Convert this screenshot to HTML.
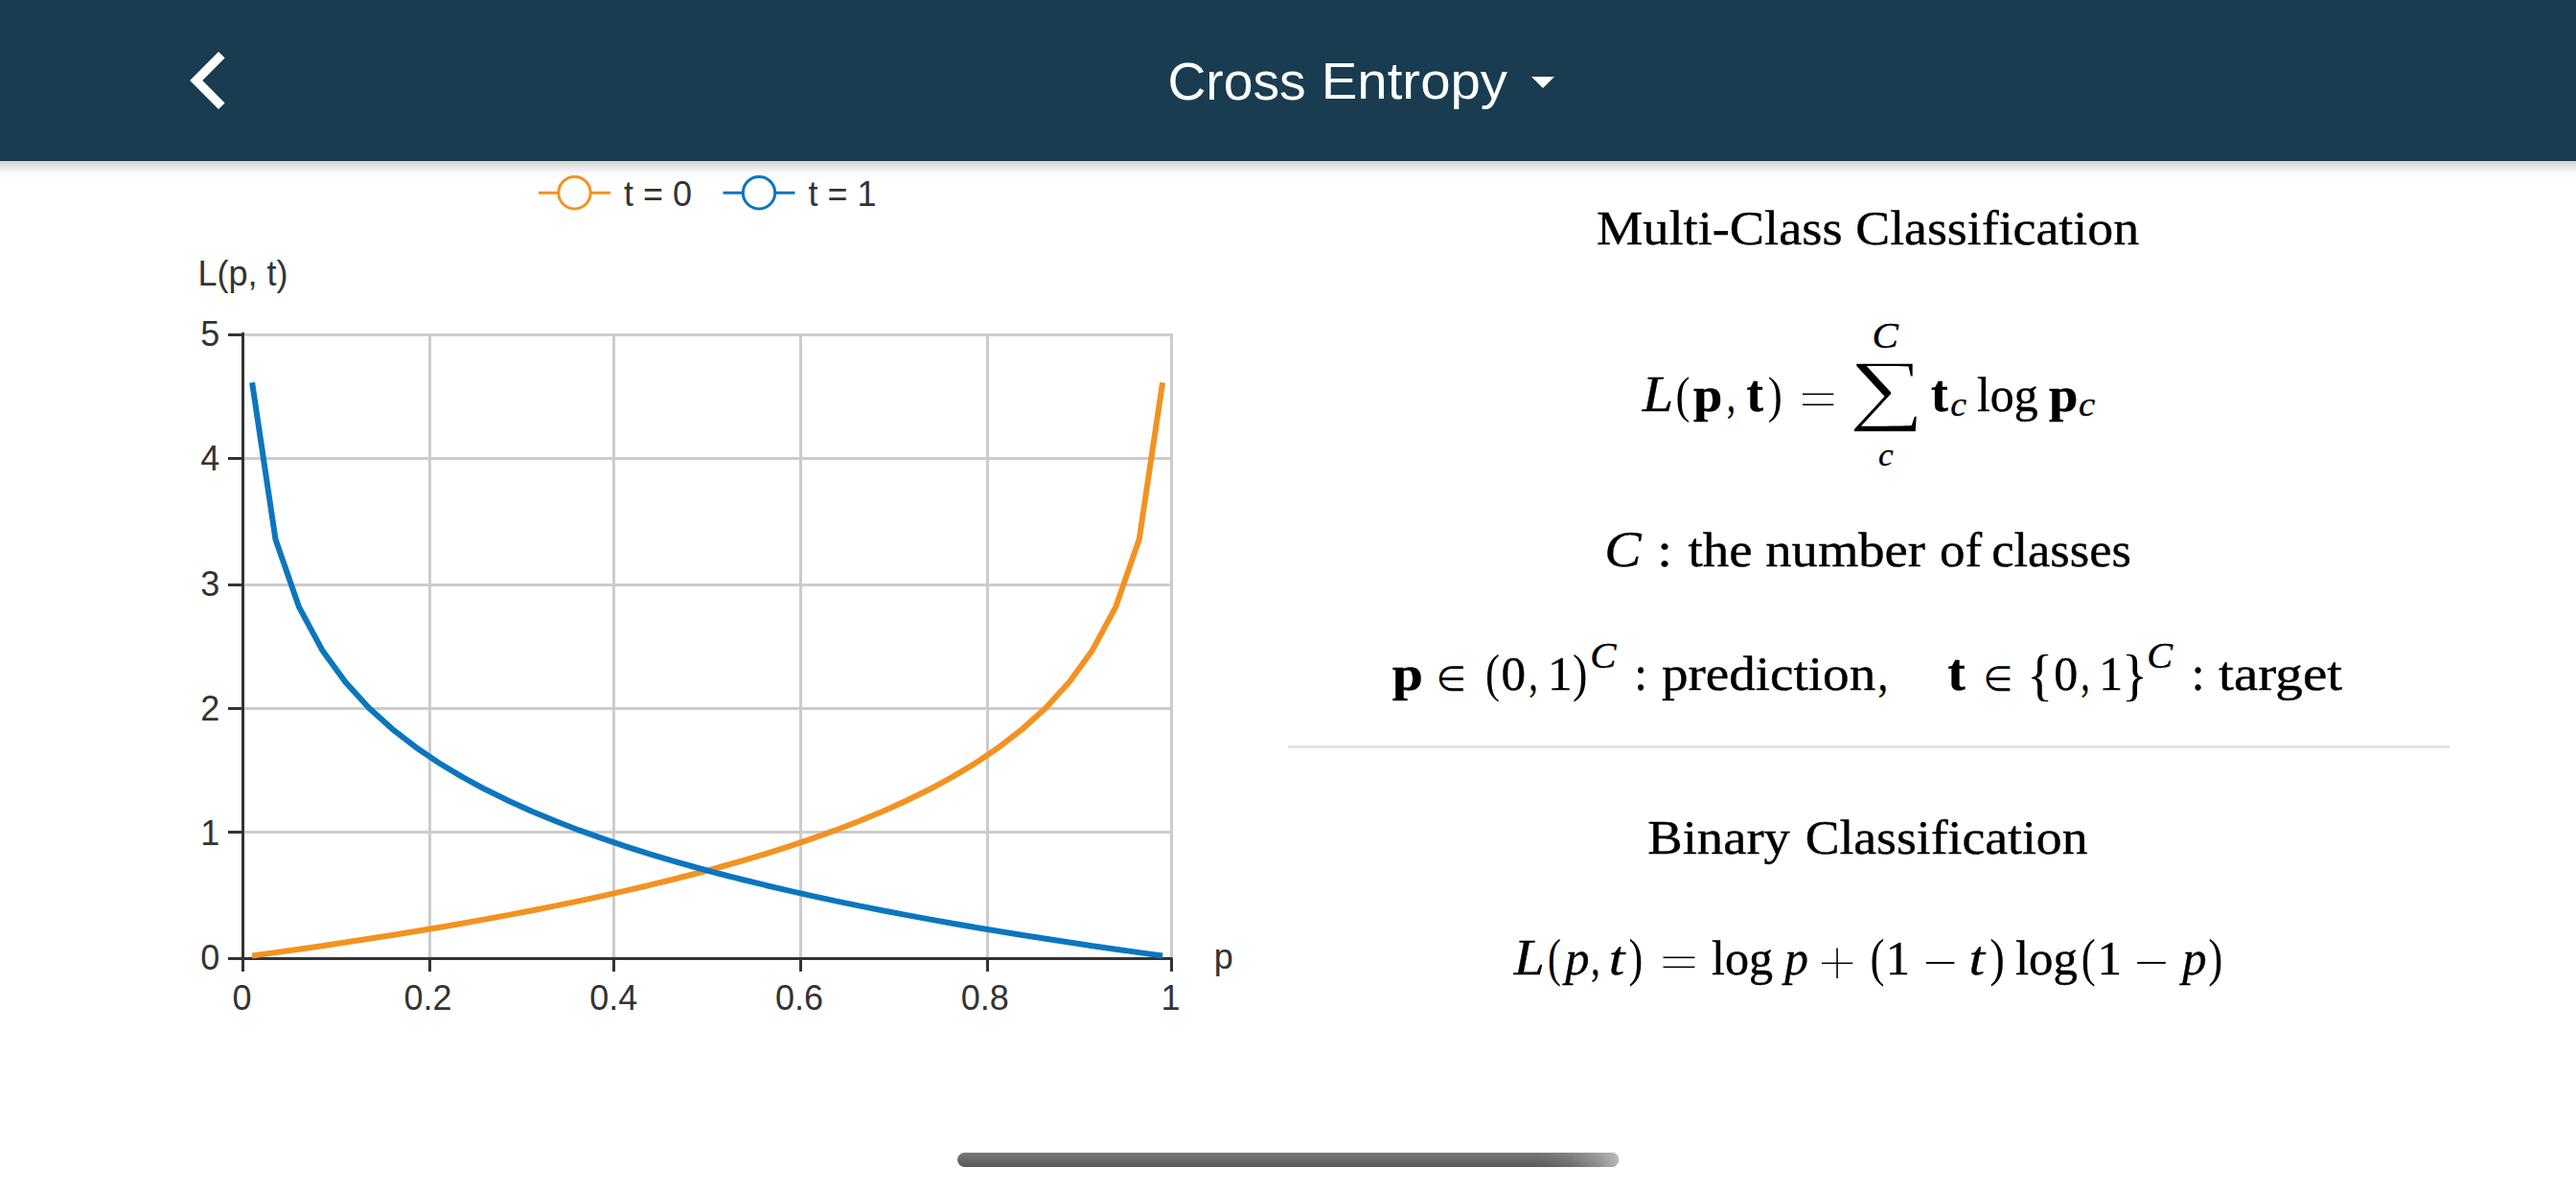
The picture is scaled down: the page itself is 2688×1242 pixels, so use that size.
<!DOCTYPE html>
<html lang="en"><head><meta charset="utf-8"><title>Cross Entropy</title>
<style>
html,body{margin:0;padding:0;background:#fff;}
body{width:2688px;height:1242px;position:relative;overflow:hidden;font-family:"Liberation Sans", "DejaVu Sans", sans-serif;}
#hdr{position:absolute;left:-24px;top:0;width:2736px;height:168px;background:#193C50;box-shadow:0 3px 14px rgba(0,0,0,0.28);z-index:2;}
#hdr .edge{position:absolute;left:0;right:0;bottom:0;height:1px;background:#10303f;}
#caret{position:absolute;left:1622.4px;top:79.5px;width:0;height:0;border-left:12.1px solid transparent;border-right:12.1px solid transparent;border-top:12px solid #fff;}
#main{position:absolute;left:0;top:0;width:2688px;height:1242px;z-index:3;}
#rule{z-index:1;position:absolute;left:1344px;top:778.4px;width:1212px;height:3px;background:#e4e4e4;}
#home{position:absolute;left:999px;top:1203px;width:690px;height:15px;border-radius:7.5px;background:linear-gradient(#787878,#5a5a5a);overflow:hidden;}
#home:after{content:"";position:absolute;right:0;top:0;width:84px;height:15px;background:linear-gradient(90deg,rgba(205,205,205,0) 0%,rgba(205,205,205,0.15) 40%,rgba(205,205,205,0.45) 75%,rgba(205,205,205,0.8) 100%);}
svg text{white-space:pre;}
svg text.h{stroke:#000;stroke-width:0.4px;stroke-linejoin:round;}
svg text.hi{stroke:#000;stroke-width:0.35px;stroke-linejoin:round;}
</style></head>
<body>
<div id="hdr"><div class="edge"></div>
<svg width="300" height="168" style="position:absolute;left:24px;top:0"><polyline points="231.3,57.3 204.7,84 231.3,110.7" fill="none" stroke="#fff" stroke-width="9.3" stroke-linejoin="miter" stroke-linecap="butt"/></svg>
<div id="caret"></div>
</div>
<div id="rule"></div>
<svg id="main" width="2688" height="1242" viewBox="0 0 2688 1242">
<!-- chart -->
<g stroke="#ccc" stroke-width="3" fill="none">
<line x1="448.5" y1="348" x2="448.5" y2="1000.5"/>
<line x1="640.5" y1="348" x2="640.5" y2="1000.5"/>
<line x1="835.5" y1="348" x2="835.5" y2="1000.5"/>
<line x1="1030.5" y1="348" x2="1030.5" y2="1000.5"/>
<line x1="1222.5" y1="348" x2="1222.5" y2="1000.5"/>
<line x1="253.5" y1="868.5" x2="1224" y2="868.5"/>
<line x1="253.5" y1="739.5" x2="1224" y2="739.5"/>
<line x1="253.5" y1="610.5" x2="1224" y2="610.5"/>
<line x1="253.5" y1="478.5" x2="1224" y2="478.5"/>
<line x1="253.5" y1="349.5" x2="1224" y2="349.5"/>
</g>
<g stroke="#333" stroke-width="3" fill="none">
<line x1="253.5" y1="348" x2="253.5" y2="1000.5" stroke-linecap="round"/>
<line x1="253.5" y1="1000.5" x2="1222.5" y2="1000.5" stroke-linecap="round"/>
<line x1="253.5" y1="1000.5" x2="253.5" y2="1014"/>
<line x1="448.5" y1="1000.5" x2="448.5" y2="1014"/>
<line x1="640.5" y1="1000.5" x2="640.5" y2="1014"/>
<line x1="835.5" y1="1000.5" x2="835.5" y2="1014"/>
<line x1="1030.5" y1="1000.5" x2="1030.5" y2="1014"/>
<line x1="1222.5" y1="1000.5" x2="1222.5" y2="1014"/>
<line x1="238" y1="1000.5" x2="253.5" y2="1000.5"/>
<line x1="238" y1="868.5" x2="253.5" y2="868.5"/>
<line x1="238" y1="739.5" x2="253.5" y2="739.5"/>
<line x1="238" y1="610.5" x2="253.5" y2="610.5"/>
<line x1="238" y1="478.5" x2="253.5" y2="478.5"/>
<line x1="238" y1="349.5" x2="253.5" y2="349.5"/>
</g>
<polyline points="263.09,997.49 287.45,994.14 311.81,990.71 336.17,987.18 360.53,983.55 384.89,979.82 409.25,975.98 433.61,972.02 457.97,967.94 482.33,963.73 506.69,959.37 531.05,954.86 555.41,950.20 579.76,945.36 604.12,940.33 628.48,935.10 652.84,929.65 677.20,923.96 701.56,918.01 725.92,911.78 750.28,905.24 774.64,898.35 799.00,891.07 823.36,883.36 847.72,875.17 872.08,866.43 896.44,857.06 920.79,846.96 945.15,836.01 969.51,824.05 993.87,810.89 1018.23,796.24 1042.59,779.73 1066.95,760.82 1091.31,738.69 1115.67,712.02 1140.03,678.43 1164.39,633.05 1188.75,562.79 1213.11,399.21" fill="none" stroke="#F39220" stroke-width="6" stroke-linejoin="bevel"/>
<polyline points="263.09,399.21 287.45,562.79 311.81,633.05 336.17,678.43 360.53,712.02 384.89,738.69 409.25,760.82 433.61,779.73 457.97,796.24 482.33,810.89 506.69,824.05 531.05,836.01 555.41,846.96 579.76,857.06 604.12,866.43 628.48,875.17 652.84,883.36 677.20,891.07 701.56,898.35 725.92,905.24 750.28,911.78 774.64,918.01 799.00,923.96 823.36,929.65 847.72,935.10 872.08,940.33 896.44,945.36 920.79,950.20 945.15,954.86 969.51,959.37 993.87,963.73 1018.23,967.94 1042.59,972.02 1066.95,975.98 1091.31,979.82 1115.67,983.55 1140.03,987.18 1164.39,990.71 1188.75,994.14 1213.11,997.49" fill="none" stroke="#0B76BE" stroke-width="6" stroke-linejoin="bevel"/>
<g font-family='"Liberation Sans", "DejaVu Sans", sans-serif' font-size="36" fill="#333">
<text x="252.6" y="1054" text-anchor="middle">0</text>
<text x="446.4" y="1054" text-anchor="middle">0.2</text>
<text x="640.2" y="1054" text-anchor="middle">0.4</text>
<text x="834.0" y="1054" text-anchor="middle">0.6</text>
<text x="1027.8" y="1054" text-anchor="middle">0.8</text>
<text x="1221.6" y="1054" text-anchor="middle">1</text>
<text x="229.2" y="1012.3" text-anchor="end">0</text>
<text x="229.2" y="882.1" text-anchor="end">1</text>
<text x="229.2" y="751.8" text-anchor="end">2</text>
<text x="229.2" y="621.6" text-anchor="end">3</text>
<text x="229.2" y="491.3" text-anchor="end">4</text>
<text x="229.2" y="361.1" text-anchor="end">5</text>
<text x="1266.8" y="1011">p</text>
<text x="206.5" y="298.4">L(p, t)</text>
<text x="651" y="215">t = 0</text>
<text x="843.5" y="215">t = 1</text>
</g>
<g fill="#fff" stroke-width="3">
<line x1="562" y1="201.2" x2="637" y2="201.2" stroke="#F39220"/><circle cx="599.5" cy="201.2" r="16.7" stroke="#F39220"/>
<line x1="754.5" y1="201.2" x2="829.5" y2="201.2" stroke="#0B76BE"/><circle cx="792" cy="201.2" r="16.7" stroke="#0B76BE"/>
</g>
<!-- math -->
<g font-family='"Liberation Serif", "DejaVu Serif", serif' font-size="50" fill="#000">
<text transform="matrix(1.0626 0 0 1.0632 1218.47 103.84)" font-family='"Liberation Sans", "DejaVu Sans", sans-serif' font-size="52" fill="#fff">Cross</text>
<text transform="matrix(1.0844 0 0 1.0255 1378.76 102.92)" font-family='"Liberation Sans", "DejaVu Sans", sans-serif' font-size="52" fill="#fff">Entropy</text>
<text transform="matrix(1.0874 0 0 1.0000 1665.91 254.50)" class="h">Multi-Class</text>
<text transform="matrix(1.0760 0 0 1.0000 1936.25 254.50)" class="h">Classification</text>
<text transform="matrix(1.1667 0 0 1.0485 1713.67 429.00)" font-style="italic" class="hi">L</text>
<text transform="matrix(0.9000 0 0 1.0702 1748.40 429.83)">(</text>
<text transform="matrix(1.0885 0 0 1.0000 1767.00 429.00)" font-weight="700" class="h">p</text>
<text transform="matrix(0.7111 0 0 1.0000 1801.89 429.00)" class="h">,</text>
<text transform="matrix(1.0471 0 0 1.1033 1822.60 428.50)" font-weight="700" class="h">t</text>
<text transform="matrix(0.9000 0 0 1.0702 1844.70 429.83)">)</text>
<text transform="matrix(1.4417 0 0 1.1077 1876.82 434.58)" stroke="#fff" stroke-width="1.0" vector-effect="non-scaling-stroke">=</text>
<text transform="matrix(2.2355 0 0 1.6568 1928.83 432.57)" stroke="#fff" stroke-width="1.6" vector-effect="non-scaling-stroke">∑</text>
<text transform="matrix(1.1391 0 0 1.0500 1953.42 363.00)" font-style="italic" font-size="36" class="hi">C</text>
<text transform="matrix(0.9800 0 0 0.9235 1959.92 485.60)" font-style="italic" font-size="36" class="hi">c</text>
<text transform="matrix(1.0706 0 0 1.1033 2015.00 428.50)" font-weight="700" class="h">t</text>
<text transform="matrix(1.0467 0 0 0.9882 2035.35 434.30)" font-style="italic" font-size="36" class="hi">c</text>
<text transform="matrix(0.9938 0 0 1.0000 2063.01 429.00)" class="h">log</text>
<text transform="matrix(1.0923 0 0 1.0000 2138.00 429.00)" font-weight="700" class="h">p</text>
<text transform="matrix(1.0800 0 0 0.9882 2169.02 434.30)" font-style="italic" font-size="36" class="hi">c</text>
<text transform="matrix(1.1500 0 0 1.0735 1674.30 590.73)" font-style="italic" class="hi">C</text>
<text transform="matrix(1.1286 0 0 1.0000 1729.31 590.80)" class="h">:</text>
<text transform="matrix(1.0970 0 0 1.0000 1761.50 590.80)" class="h">the</text>
<text transform="matrix(1.0915 0 0 1.0000 1842.31 590.80)" class="h">number</text>
<text transform="matrix(1.0585 0 0 1.0000 2023.94 590.80)" class="h">of</text>
<text transform="matrix(1.0500 0 0 1.0000 2078.15 590.80)" class="h">classes</text>
<text transform="matrix(1.1538 0 0 1.0000 1452.80 720.20)" font-weight="700" class="h">p</text>
<text transform="matrix(0.7139 0 0 0.7216 1498.84 720.98)" font-family='"DejaVu Sans", "DejaVu Serif", sans-serif'>∈</text>
<text transform="matrix(0.9000 0 0 1.0809 1549.90 721.11)">(</text>
<text transform="matrix(1.0217 0 0 1.0294 1566.38 719.87)" class="h">0</text>
<text transform="matrix(0.7222 0 0 1.0000 1595.58 720.20)" class="h">,</text>
<text transform="matrix(1.0278 0 0 1.0303 1614.99 720.20)" class="h">1</text>
<text transform="matrix(0.9286 0 0 1.0809 1641.07 721.11)">)</text>
<text transform="matrix(1.1348 0 0 1.0708 1659.23 697.40)" font-style="italic" font-size="36" class="hi">C</text>
<text transform="matrix(0.9857 0 0 1.0000 1705.34 720.20)" class="h">:</text>
<text transform="matrix(1.1016 0 0 1.0000 1733.90 720.20)" class="h">prediction</text>
<text transform="matrix(0.8444 0 0 1.0000 1959.56 720.20)" class="h">,</text>
<text transform="matrix(1.0882 0 0 1.1133 2032.40 719.69)" font-weight="700" class="h">t</text>
<text transform="matrix(0.7056 0 0 0.7216 2069.38 720.98)" font-family='"DejaVu Sans", "DejaVu Serif", sans-serif'>∈</text>
<text transform="matrix(1.1562 0 0 1.1814 2114.68 723.55)">{</text>
<text transform="matrix(0.9957 0 0 1.0294 2143.30 719.87)" class="h">0</text>
<text transform="matrix(0.7222 0 0 1.0000 2171.48 720.20)" class="h">,</text>
<text transform="matrix(0.9944 0 0 1.0303 2190.32 720.20)" class="h">1</text>
<text transform="matrix(1.1500 0 0 1.1814 2213.70 723.55)">}</text>
<text transform="matrix(1.1174 0 0 1.0708 2240.37 697.40)" font-style="italic" font-size="36" class="hi">C</text>
<text transform="matrix(0.9857 0 0 1.0000 2286.64 720.20)" class="h">:</text>
<text transform="matrix(1.1440 0 0 1.0000 2315.00 720.20)" class="h">target</text>
<text transform="matrix(1.0919 0 0 1.0000 1719.31 891.10)" class="h">Binary</text>
<text transform="matrix(1.0724 0 0 1.0000 1883.66 891.10)" class="h">Classification</text>
<text transform="matrix(1.1519 0 0 1.0455 1579.75 1016.80)" font-style="italic" class="hi">L</text>
<text transform="matrix(0.8286 0 0 1.0809 1615.04 1017.61)">(</text>
<text transform="matrix(1.0111 0 0 1.0000 1633.23 1016.80)" font-style="italic" class="hi">p</text>
<text transform="matrix(0.7333 0 0 1.0000 1660.17 1016.80)" class="h">,</text>
<text transform="matrix(1.1923 0 0 1.0000 1678.72 1016.80)" font-style="italic" class="hi">t</text>
<text transform="matrix(0.8857 0 0 1.0809 1699.61 1017.61)">)</text>
<text transform="matrix(1.4667 0 0 1.0154 1731.27 1021.05)" stroke="#fff" stroke-width="1.0" vector-effect="non-scaling-stroke">=</text>
<text transform="matrix(1.0017 0 0 1.0000 1786.00 1016.80)" class="h">log</text>
<text transform="matrix(0.9889 0 0 1.0000 1862.37 1016.80)" font-style="italic" class="hi">p</text>
<text transform="matrix(1.4750 0 0 1.4458 1896.15 1028.93)" stroke="#fff" stroke-width="2.0" vector-effect="non-scaling-stroke">+</text>
<text transform="matrix(0.9000 0 0 1.0809 1951.60 1017.61)">(</text>
<text transform="matrix(1.0111 0 0 1.0303 1967.86 1016.80)" class="h">1</text>
<text transform="matrix(1.2667 0 0 0.8000 2006.87 1017.80)">−</text>
<text transform="matrix(1.1923 0 0 1.0000 2054.62 1016.80)" font-style="italic" class="hi">t</text>
<text transform="matrix(0.9357 0 0 1.0809 2076.36 1017.61)">)</text>
<text transform="matrix(1.0160 0 0 1.0000 2102.88 1016.80)" class="h">log</text>
<text transform="matrix(0.9000 0 0 1.0809 2171.70 1017.61)">(</text>
<text transform="matrix(1.0222 0 0 1.0303 2188.51 1016.80)" class="h">1</text>
<text transform="matrix(1.2708 0 0 0.8000 2226.96 1017.80)">−</text>
<text transform="matrix(1.0148 0 0 1.0000 2277.14 1016.80)" font-style="italic" class="hi">p</text>
<text transform="matrix(0.9071 0 0 1.0809 2304.19 1017.61)">)</text>
</g>
</svg>
<div id="home"></div>
</body></html>
